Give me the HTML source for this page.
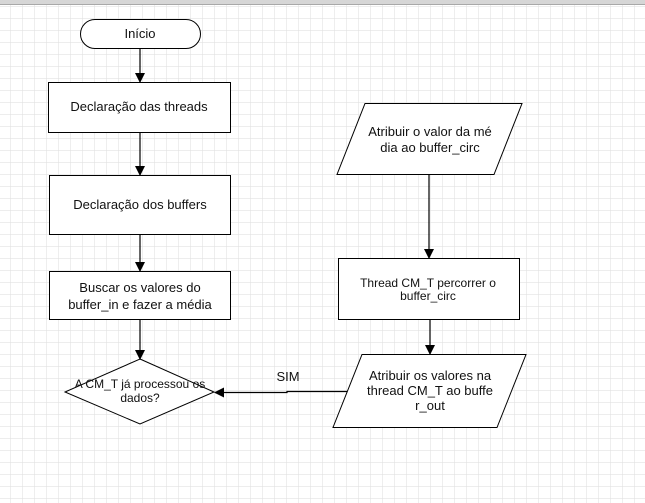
<!DOCTYPE html>
<html><head><meta charset="utf-8"><style>
html,body{margin:0;padding:0;background:#fff}
svg{display:block}
text{font-family:"Liberation Sans",Arial,sans-serif;font-size:13px;fill:#111}
</style></head><body>
<svg width="645" height="503" viewBox="0 0 645 503" xmlns="http://www.w3.org/2000/svg">
<defs>
<pattern id="g" x="10" y="6" width="12" height="12" patternUnits="userSpaceOnUse">
<path d="M0 0H12M0 0V12" stroke="#e2e2e2" stroke-width="1.2" fill="none"/>
</pattern>
<marker id="a" markerWidth="10" markerHeight="10" refX="9" refY="5" orient="auto" markerUnits="userSpaceOnUse">
<path d="M0 0L10 5L0 10z" fill="#000"/>
</marker>
</defs>
<rect width="645" height="503" fill="url(#g)"/>
<rect width="645" height="4" fill="#d6d6d6"/>
<rect y="4" width="645" height="1" fill="#a8a8a8"/>
<g stroke="#000" stroke-width="1" fill="#fff">
<rect x="80.5" y="19.5" width="120" height="29" rx="14.5"/>
<rect x="48.5" y="82.5" width="182" height="50"/>
<rect x="49.5" y="175.5" width="181" height="59"/>
<rect x="49.5" y="271.5" width="181" height="48"/>
<path d="M140 359L214 392L140 424L65 392Z"/>
<path d="M365 103.5H522L494 174.5H337Z"/>
<rect x="338.5" y="258.5" width="181" height="61"/>
<path d="M362 354.5H526L497 427.5H333Z"/>
</g>
<g stroke="#000" stroke-width="1.2" fill="none" marker-end="url(#a)">
<path d="M140 48V82"/>
<path d="M140 132V175"/>
<path d="M140 235V271"/>
<path d="M140 320V359"/>
<path d="M429 174V258"/>
<path d="M430 320V354"/>
<path d="M347 391.5H287V392.5H215"/>
</g>
<text x="140" y="38" text-anchor="middle">Início</text>
<text x="139" y="111" text-anchor="middle">Declaração das threads</text>
<text x="140" y="209" text-anchor="middle">Declaração dos buffers</text>
<text x="140" y="292" text-anchor="middle">Buscar os valores do</text>
<text x="140" y="309" text-anchor="middle">buffer_in e fazer a média</text>
<text x="140" y="388" text-anchor="middle" style="font-size:12px">A CM_T já processou os</text>
<text x="140" y="402" text-anchor="middle" style="font-size:12px">dados?</text>
<text x="288" y="381" text-anchor="middle">SIM</text>
<text x="430" y="136" text-anchor="middle">Atribuir o valor da mé</text>
<text x="430" y="152" text-anchor="middle">dia ao buffer_circ</text>
<text x="428" y="287" text-anchor="middle" style="font-size:12px">Thread CM_T percorrer o</text>
<text x="428" y="300" text-anchor="middle" style="font-size:12px">buffer_circ</text>
<text x="430" y="380" text-anchor="middle">Atribuir os valores na</text>
<text x="430" y="395" text-anchor="middle">thread CM_T ao buffe</text>
<text x="430" y="410" text-anchor="middle">r_out</text>
</svg>
</body></html>
